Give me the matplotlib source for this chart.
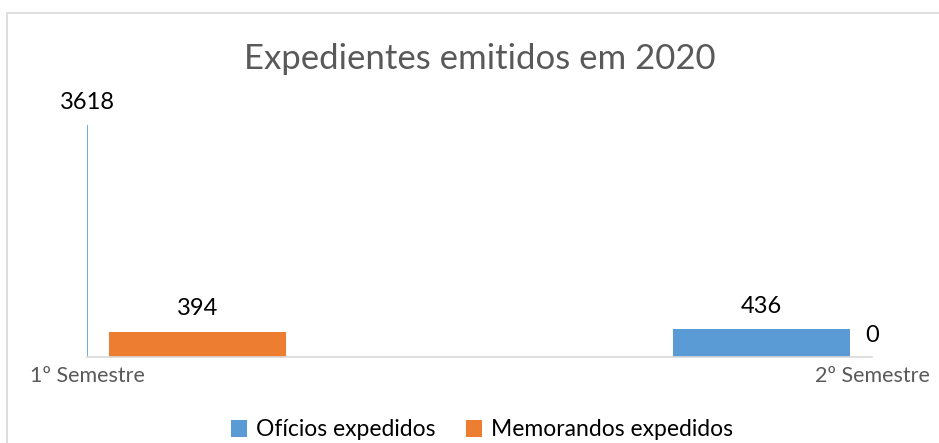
import matplotlib.pyplot as plt
from matplotlib.patches import Rectangle

# Data
categories = ["1º Semestre", "2º Semestre"]
series_names = ["Ofícios expedidos", "Memorandos expedidos"]
oficios = [3618, 436]
memorandos = [394, 0]
title = "Expedientes emitidos em 2020"

blue = "#5B9BD5"
orange = "#ED7D31"
grey = "#595959"

plt.rcParams["font.family"] = ["Lato", "DejaVu Sans"]

fig = plt.figure(figsize=(9.39, 4.43), dpi=100)
ax = fig.add_axes([87 / 939, 1 - 356.7 / 443, 785 / 939, 255.7 / 443])

x = list(range(len(categories)))
width = 0.226
offset = 0.141

# bars, clipped at the axis ends like in the original
ax.bar([i - offset for i in x], oficios, width, color=blue, label=series_names[0])
ax.bar([i + offset for i in x], memorandos, width, color=orange, label=series_names[1])
# first blue bar only shows as a thin edge at the axis start
ax.vlines(x[0], 0, oficios[0], color=blue, lw=1.2)

ax.set_xlim(x[0], x[-1])
ax.set_ylim(0, 4000)

# data labels
lab = dict(ha="center", va="bottom", fontsize=17)
ax.text(x[0], oficios[0] + 190, str(oficios[0]), **lab)
ax.text(x[0] + offset, memorandos[0] + 190, str(memorandos[0]), **lab)
ax.text(x[1] - offset, oficios[1] + 180, str(oficios[1]), **lab)
ax.text(x[1], memorandos[1] + 170, str(memorandos[1]), **lab)

ax.set_xticks(x)
ax.set_xticklabels(categories, fontsize=15.5, color=grey)
ax.tick_params(axis="x", length=0, pad=7)
ax.set_yticks([])
for side in ["top", "right", "left"]:
    ax.spines[side].set_visible(False)
ax.spines["bottom"].set_color("#D9D9D9")
ax.spines["bottom"].set_linewidth(1.2)

fig.text(480 / 939, 1 - 59 / 443, title, ha="center", va="center", fontsize=25, color=grey)

handles, labels = ax.get_legend_handles_labels()
fig.legend(handles, labels, loc="center", bbox_to_anchor=(482 / 939, 1 - 430 / 443),
           ncol=2, frameon=False, fontsize=16.5, handlelength=0.7, handleheight=0.7,
           handletextpad=0.4, columnspacing=1.3)

# light frame around the chart area
fig.patches.append(Rectangle((7 / 939, -0.1), 1.2, 1 - 13 / 443 + 0.1, transform=fig.transFigure,
                             fill=False, edgecolor="#D9D9D9", lw=1.2))

fig.savefig("out.png", dpi=100, facecolor="white")
